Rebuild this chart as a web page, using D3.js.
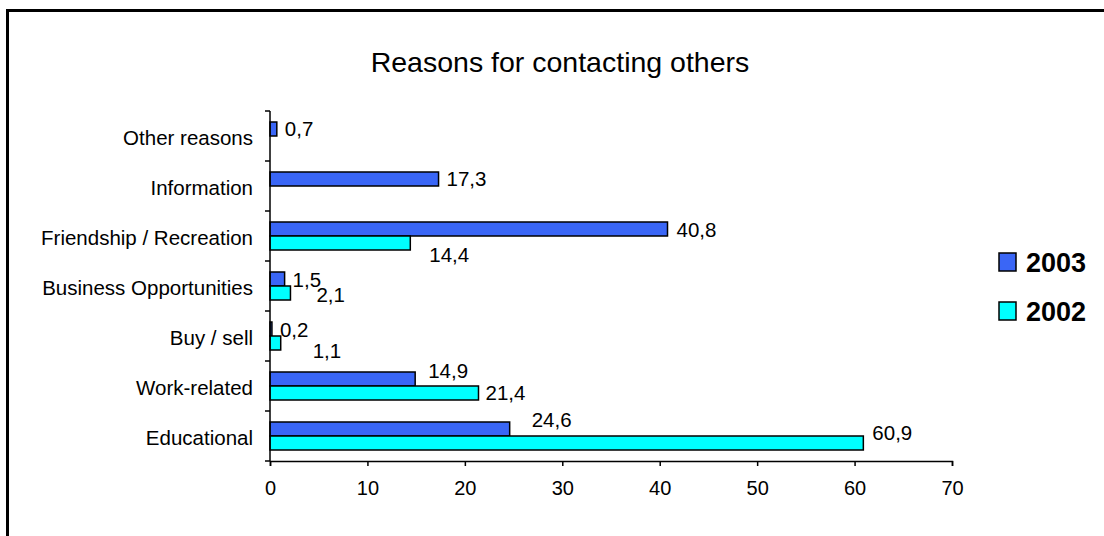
<!DOCTYPE html>
<html>
<head>
<meta charset="utf-8">
<script src="https://cdn.jsdelivr.net/npm/d3@7"></script>
<style>
  html, body { margin: 0; padding: 0; background: #fff; }
  svg { display: block; font-family: "Liberation Sans", Arial, sans-serif; }
</style>
</head>
<body>
<svg id="chart" width="1104" height="536"></svg>
<script>
// Reasons for contacting others, 2003 vs 2002 (percent)
const categories = [
  "Other reasons",
  "Information",
  "Friendship / Recreation",
  "Business Opportunities",
  "Buy / sell",
  "Work-related",
  "Educational"
];
const values2003 = [0.7, 17.3, 40.8, 1.5, 0.2, 14.9, 24.6];
const values2002 = [null, null, 14.4, 2.1, 1.1, 21.4, 60.9];
const seriesNames = ["2003", "2002"];
const xTicks = [0, 10, 20, 30, 40, 50, 60, 70];
const titleText = "Reasons for contacting others";

// Label nudges (px) relative to the bar end, per category
const nudge2003 = [[8, 0], [8, 0], [9, 1], [8, 1], [8, 1], [13, -8], [22, -9]];
const nudge2002 = [[0, 0], [0, 0], [19, 12], [26, 2], [32, 8], [7, 0], [9, -10]];

const colors = { "2003": "#3A66F6", "2002": "#00FFFF" };

const svg = d3.select("#chart");

// outer frame (extends past the right and bottom edges)
svg.append("rect")
  .attr("x", 7.5).attr("y", 10.5)
  .attr("width", 1200).attr("height", 600)
  .attr("fill", "none").attr("stroke", "#000").attr("stroke-width", 3);

const plot = { left: 270, right: 952, top: 111, bottom: 461 };

const x = d3.scaleLinear().domain([0, 70]).range([plot.left, plot.right]);
const y = d3.scaleBand().domain(categories).range([plot.top, plot.bottom])
  .paddingInner(0.44).paddingOuter(0.22);
const ySeries = d3.scaleBand().domain(seriesNames).range([0, y.bandwidth()]);

// title
svg.append("text")
  .attr("x", 560).attr("y", 62)
  .attr("text-anchor", "middle").attr("dy", "0.35em")
  .attr("font-size", 28.5)
  .text(titleText);

// bars
const rows = categories.map((c, i) => ({ cat: c, i, v2003: values2003[i], v2002: values2002[i] }));

seriesNames.forEach(s => {
  const key = "v" + s;
  const nud = s === "2003" ? nudge2003 : nudge2002;
  const g = svg.append("g");
  const data = rows.filter(d => d[key] != null);
  g.selectAll("rect").data(data).enter().append("rect")
    .attr("x", x(0))
    .attr("y", d => y(d.cat) + ySeries(s))
    .attr("width", d => x(d[key]) - x(0))
    .attr("height", ySeries.bandwidth())
    .attr("fill", colors[s])
    .attr("stroke", "#000").attr("stroke-width", 1.5);
  g.selectAll("text").data(data).enter().append("text")
    .attr("x", d => x(d[key]) + nud[d.i][0])
    .attr("y", d => y(d.cat) + ySeries(s) + ySeries.bandwidth() / 2 + nud[d.i][1])
    .attr("dy", "0.36em")
    .attr("font-size", 20.5)
    .text(d => String(d[key]).replace(".", ","));
});

// y axis
const yAxis = svg.append("g");
yAxis.append("line")
  .attr("x1", plot.left).attr("x2", plot.left)
  .attr("y1", plot.top).attr("y2", plot.bottom)
  .attr("stroke", "#000").attr("stroke-width", 1.5);
const step = y.step();
d3.range(categories.length + 1).forEach(k => {
  yAxis.append("line")
    .attr("x1", plot.left - 5).attr("x2", plot.left)
    .attr("y1", plot.top + k * step).attr("y2", plot.top + k * step)
    .attr("stroke", "#000").attr("stroke-width", 1.5);
});
yAxis.selectAll("text.cat").data(categories).enter().append("text")
  .attr("class", "cat")
  .attr("x", 253)
  .attr("y", d => y(d) + y.bandwidth() / 2 + 2)
  .attr("dy", "0.36em")
  .attr("text-anchor", "end")
  .attr("font-size", 20.5)
  .text(d => d);

// x axis
const xAxis = d3.axisBottom(x).tickValues(xTicks).tickSize(5).tickSizeOuter(5).tickPadding(15)
  .tickFormat(d3.format("d"));
const gx = svg.append("g").attr("transform", `translate(0,${plot.bottom})`).call(xAxis);
gx.select(".domain").attr("stroke", "#000").attr("stroke-width", 1.5);
gx.selectAll(".tick line").attr("stroke", "#000").attr("stroke-width", 1.5);
gx.selectAll(".tick text").attr("font-size", 20).attr("fill", "#000")
  .attr("font-family", "'Liberation Sans', Arial, sans-serif");

// legend
const legend = svg.append("g");
const legendY = [262, 311];
seriesNames.forEach((s, i) => {
  legend.append("rect")
    .attr("x", 999).attr("y", legendY[i] - 9)
    .attr("width", 17).attr("height", 18)
    .attr("fill", colors[s]).attr("stroke", "#000").attr("stroke-width", 1.5);
  legend.append("text")
    .attr("x", 1026).attr("y", legendY[i])
    .attr("dy", "0.36em")
    .attr("font-size", 27).attr("font-weight", "bold")
    .text(s);
});
</script>
</body>
</html>
